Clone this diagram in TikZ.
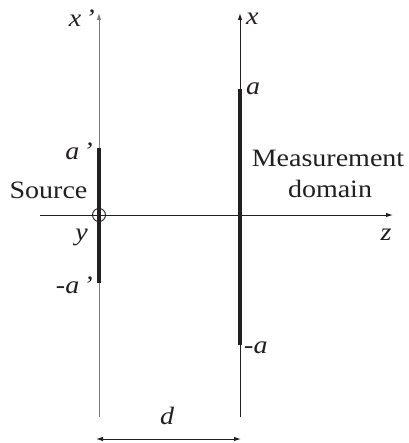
\documentclass[tikz,border=0pt]{standalone}
\usepackage{fontspec}
\setmainfont[FakeStretch=1.12]{Liberation Serif}
\usetikzlibrary{arrows.meta}
\definecolor{ink}{HTML}{231F20}
\tikzset{
  lbl/.style={inner sep=0pt, font=\fontsize{25}{28}\selectfont\itshape, text=ink},
  txt/.style={inner sep=0pt, font=\fontsize{25}{28}\selectfont, text=ink, align=center},
  axis/.style={line width=1pt, draw=ink, -{Latex[length=7pt,width=4.5pt]}},
  grayaxis/.style={line width=1pt, draw=ink!60, -{Latex[length=7pt,width=4.5pt]}},
  aperture/.style={line width=4pt, draw=ink},
  dimline/.style={line width=1pt, draw=ink, {Latex[length=7pt,width=4.5pt]}-{Latex[length=7pt,width=4.5pt]}}
}
\begin{document}
\begin{tikzpicture}[x=1pt,y=-1pt]
\useasboundingbox (0,0) rectangle (408,443);
% coordinates
\coordinate (lb) at (99,417);
\coordinate (lt) at (99,13);
\coordinate (rb) at (240,417);
\coordinate (rt) at (240,13);
\coordinate (zl) at (40,215);
\coordinate (zr) at (393,215);
\coordinate (sa) at (99,148);
\coordinate (sb) at (99,283);
\coordinate (ma) at (240,89);
\coordinate (mb) at (240,345);
\coordinate (dl) at (96,439);
\coordinate (dr) at (241,439);
% axes
\draw[grayaxis] (lb) -- (lt);
\draw[axis] (rb) -- (rt);
\draw[axis] (zl) -- (zr);
% apertures
\draw[aperture] (sa) -- (sb);
\draw[aperture] (ma) -- (mb);
% origin circle
\node[draw=ink, line width=0.9pt, circle, minimum size=13pt, inner sep=0pt] (o) at (99,215) {};
% dimension
\draw[dimline] (dl) -- (dr);
% labels
\node[lbl, anchor=base east] (xp) at (95,27) {x\,’};
\node[lbl, anchor=base west] (x) at (246,25) {x};
\node[lbl, anchor=base west] (a) at (246,95) {a};
\node[lbl, anchor=base east] (ap) at (93,160) {a\,’};
\node[lbl, anchor=base east] (map) at (93,293) {-a\,’};
\node[lbl, anchor=base west] (ma2) at (244,353) {-a};
\node[lbl, anchor=base east] (y) at (88,240) {y};
\node[lbl, anchor=base] (z) at (386,240) {z};
\node[lbl, anchor=base] (d) at (167,424) {d};
\node[txt, anchor=base] (src) at (48.5,199) {Source};
\node[txt, anchor=base] (meas) at (328,167) {Measurement};
\node[txt, anchor=base] (dom) at (330,197) {domain};
\end{tikzpicture}
\end{document}
